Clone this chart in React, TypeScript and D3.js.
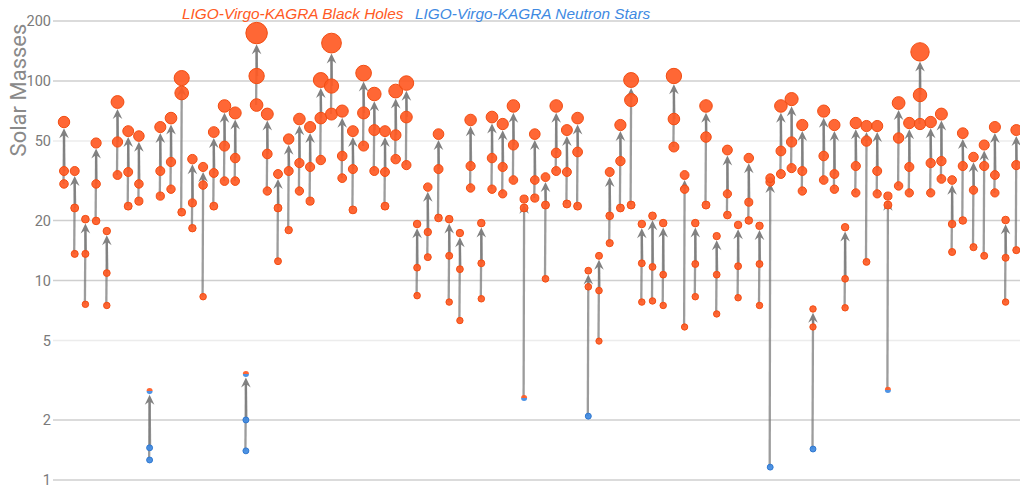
import React from "react";
import * as d3 from "d3";

// Final (remnant) masses, in solar masses, one per event, left to right
const finalMass = [62.3, 35.4, 20.3, 48.9, 17.7, 78.5, 56.1, 53.0, 2.79, 58.8, 65.2, 103.5, 40.6, 37.1, 55.5, 75.0, 69.2, 3.4, 174, 68.3, 34.2, 51.2, 64.5, 58.8, 101.2, 155, 70.7, 56.1, 109.6, 86.1, 56.1, 89.1, 97.7, 19.2, 29.4, 54.2, 20.3, 17.3, 63.8, 19.4, 66.0, 60.9, 75.0, 25.6, 54.2, 33.0, 75.0, 56.8, 65.2, 11.2, 13.3, 35.0, 60.2, 101.2, 19.2, 21.1, 19.4, 106, 33.8, 19.4, 75.0, 16.7, 45.1, 19.0, 41.1, 18.8, 32.6, 75.0, 81.2, 60.2, 7.2, 70.7, 60.2, 18.5, 61.6, 59.5, 59.5, 26.5, 77.6, 61.6, 140, 62.3, 68.3, 31.9, 54.8, 41.6, 47.8, 58.8, 20.1, 56.8];

// Primary component masses
const mass1 = [35.4, 23.1, 13.6, 30.5, 10.9, 49.5, 35.0, 30.5, 1.45, 35.4, 39.3, 87.1, 24.5, 30.1, 34.6, 47.2, 41.1, 2.0, 106, 43.1, 23.1, 35.4, 38.8, 37.1, 65.2, 94.4, 42.1, 36.2, 69.2, 56.8, 35.0, 53.6, 66.0, 11.6, 17.5, 36.2, 13.3, 11.4, 37.5, 12.2, 41.1, 37.1, 47.8, 23.1, 31.9, 23.9, 43.6, 35.0, 44.1, 9.3, 8.9, 21.1, 39.7, 80.3, 12.2, 11.7, 10.7, 64.5, 28.7, 12.1, 52.4, 10.7, 27.2, 11.8, 24.7, 12.1, 31.2, 44.6, 49.5, 35.4, 5.85, 42.1, 34.2, 10.2, 37.5, 50.0, 35.4, 23.9, 51.8, 37.1, 85.1, 38.8, 39.7, 19.2, 37.5, 28.4, 37.5, 33.8, 13.0, 37.9];

// Secondary component masses
const mass2 = [30.5, 13.6, 7.6, 19.9, 7.5, 33.8, 23.6, 25.0, 1.26, 26.5, 28.7, 22.0, 18.3, 8.3, 23.6, 31.5, 31.5, 1.4, 75.8, 28.1, 12.5, 17.9, 28.1, 25.0, 40.2, 68.3, 32.6, 22.6, 47.2, 35.4, 23.6, 40.6, 37.9, 8.4, 13.1, 20.6, 7.8, 6.3, 29.1, 8.1, 28.7, 27.2, 31.9, 2.58, 25.9, 10.2, 35.4, 24.2, 23.6, 2.09, 4.97, 15.4, 23.1, 23.9, 7.8, 7.9, 7.5, 46.7, 5.85, 8.3, 23.9, 6.8, 21.3, 8.2, 20.0, 7.5, 1.16, 34.2, 36.6, 28.1, 1.43, 31.9, 28.7, 7.3, 27.5, 12.4, 27.2, 2.83, 29.8, 27.5, 60.9, 27.5, 32.3, 13.9, 20.0, 14.7, 13.3, 27.5, 7.8, 14.2];

const yTicks = [1, 2, 5, 10, 20, 50, 100, 200];
const legendLabels = ["LIGO-Virgo-KAGRA Black Holes", "LIGO-Virgo-KAGRA Neutron Stars"];

const W = 1020;
const H = 485;
const ORANGE = "#ff5a24";
const ORANGE_STROKE = "#f24d12";
const BLUE = "#3f8ae2";
const BLUE_STROKE = "#2f78d0";
const ARROW = "#767676";
const FONT = "Roboto, 'Liberation Sans', Arial, sans-serif";
const LEGEND_FONT = "'Liberation Sans', Arial, sans-serif";

export default function App() {
  const n = finalMass.length;
  const x = d3.scaleLinear().domain([-1, n]).range([53.3, 53.3 + 10.7 * (n + 1)]);
  const y = d3.scaleLog().domain([1, 200]).range([480, 21]);
  const r = (m: number) => 2.9 + 0.045 * m;

  const kind = (m: number) => (m < 2.5 ? "ns" : m < 3.5 ? "mix" : "bh");
  const fillFor = (m: number) => {
    const k = kind(m);
    return k === "ns" ? BLUE : k === "mix" ? "url(#mixGrad)" : ORANGE;
  };
  const strokeFor = (m: number) => {
    const k = kind(m);
    return k === "ns" ? BLUE_STROKE : k === "mix" ? "none" : ORANGE_STROKE;
  };

  const events = d3.range(n).map((i) => ({
    i,
    cx: x(i),
    f: finalMass[i],
    m1: mass1[i],
    m2: mass2[i],
  }));

  return (
    <svg
      width={W}
      height={H}
      style={{ position: "absolute", left: 0, top: 0, background: "#fff" }}
      fontFamily={FONT}
    >
      <defs>
        <linearGradient id="mixGrad" x1="0" y1="0" x2="0" y2="1">
          <stop offset="0.5" stopColor={ORANGE} />
          <stop offset="0.5" stopColor={BLUE} />
        </linearGradient>
      </defs>

      {/* grid */}
      <g>
        {yTicks.map((t) => (
          <line
            key={t}
            x1={53}
            x2={W}
            y1={y(t)}
            y2={y(t)}
            stroke={t === 50 || t === 5 ? "#ececec" : "#cfcfcf"}
            strokeWidth={1.5}
          />
        ))}
        {yTicks.map((t) => (
          <text
            key={"l" + t}
            x={51}
            y={y(t)}
            dy="0.35em"
            textAnchor="end"
            fontSize={14.5}
            fill="#7a7a7a"
          >
            {t}
          </text>
        ))}
      </g>

      <text
        transform={`translate(26,90) rotate(-90)`}
        textAnchor="middle"
        fontSize={22}
        fill="#8a8a8a"
      >
        Solar Masses
      </text>

      {/* legend */}
      <text x={182} y={19} fontSize={15.4} fontStyle="italic" fill={ORANGE} fontFamily={LEGEND_FONT}>
        {legendLabels[0]}
      </text>
      <text x={415} y={19} fontSize={15.4} fontStyle="italic" fill={BLUE} fontFamily={LEGEND_FONT}>
        {legendLabels[1]}
      </text>

      {/* arrows */}
      <g>
        {events.map((e) => {
          const tipY = y(e.f) + r(e.f) + 0.5;
          const headH = 10;
          const headW = 4.8;
          const notch = 3.5;
          return (
            <g key={"a" + e.i}>
              {[e.m1, e.m2].map((m, k) => (
                <line
                  key={k}
                  x1={e.cx + (k === 0 ? 0.5 : -0.5)}
                  x2={e.cx}
                  y1={y(m)}
                  y2={tipY + headH - notch}
                  stroke={ARROW}
                  strokeOpacity={0.72}
                  strokeWidth={2.3}
                />
              ))}
              <path
                d={`M${e.cx},${tipY} L${e.cx + headW},${tipY + headH} L${e.cx},${tipY + headH - notch} L${e.cx - headW},${tipY + headH} Z`}
                fill={ARROW}
                fillOpacity={0.92}
              />
            </g>
          );
        })}
      </g>

      {/* points */}
      <g>
        {events.map((e) => (
          <g key={"p" + e.i}>
            {[e.m2, e.m1, e.f].map((m, k) => (
              <circle
                key={k}
                cx={e.cx}
                cy={y(m)}
                r={r(m)}
                fill={fillFor(m)}
                fillOpacity={0.92}
                stroke={strokeFor(m)}
                strokeWidth={1}
              />
            ))}
          </g>
        ))}
      </g>
    </svg>
  );
}
